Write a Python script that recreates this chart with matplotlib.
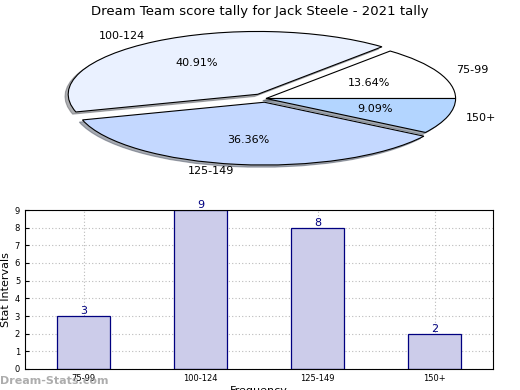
import matplotlib
matplotlib.use("Agg")
import matplotlib.pyplot as plt

# datos
categorias = ["75-99", "100-124", "125-149", "150+"]
frecuencia = [3, 9, 8, 2]
colores = ["#ffffff", "#eaf1ff", "#c4d8ff", "#b3d5ff"]
separacion = [0, 0.08, 0.06, 0]

fig = plt.figure(figsize=(5.2, 3.9), dpi=100)

# grafico de pastel (aplastado, sin aspecto igual)
ax1 = fig.add_axes([29 / 520, 1 - 177 / 390, 474 / 520, 157 / 390])
ax1.pie(frecuencia, labels=categorias, colors=colores, explode=separacion,
        autopct='%1.2f%%', startangle=0,
        shadow={'ox': -0.012, 'oy': -0.025, 'shade': 0.6},
        wedgeprops={'edgecolor': 'black', 'linewidth': 0.8},
        textprops={'fontsize': 8})
ax1.set_aspect('auto')
ax1.set_xlim(-1.25, 1.25)
ax1.set_ylim(-1.25, 1.25)
fig.text(0.5, 1 - 11 / 390, 'Dream Team score tally for Jack Steele - 2021 tally',
         ha='center', va='center', fontsize=9.5)

# grafico de barras
ax2 = fig.add_axes([25 / 520, 1 - 369 / 390, 468 / 520, 159 / 390])
x = range(len(categorias))
ax2.bar(x, frecuencia, width=0.45, color='#ccccea', edgecolor='#000080',
        linewidth=0.9, zorder=2)
for xi, v in zip(x, frecuencia):
    ax2.text(xi, v, str(v), ha='center', va='bottom', color='#000080', fontsize=8)
ax2.set_xlim(-0.5, 3.5)
ax2.set_ylim(0, 9)
ax2.set_yticks(range(10))
ax2.set_xticks(list(x))
ax2.set_xticklabels(categorias)
ax2.tick_params(labelsize=6, direction='in', length=3)
ax2.grid(True, linestyle=(0, (1, 2)), color='#bbbbbb', linewidth=0.8, zorder=0)
ax2.set_ylabel('Stat Intervals', fontsize=8, labelpad=3)
ax2.set_xlabel('Frequency', fontsize=8, labelpad=2)

# marca de agua
fig.text(0.0, 1 - 381 / 390, 'Dream-Stats.com', fontsize=8, fontweight='bold',
         color='#999999', alpha=0.8, va='center', ha='left')

plt.savefig('out.png')
